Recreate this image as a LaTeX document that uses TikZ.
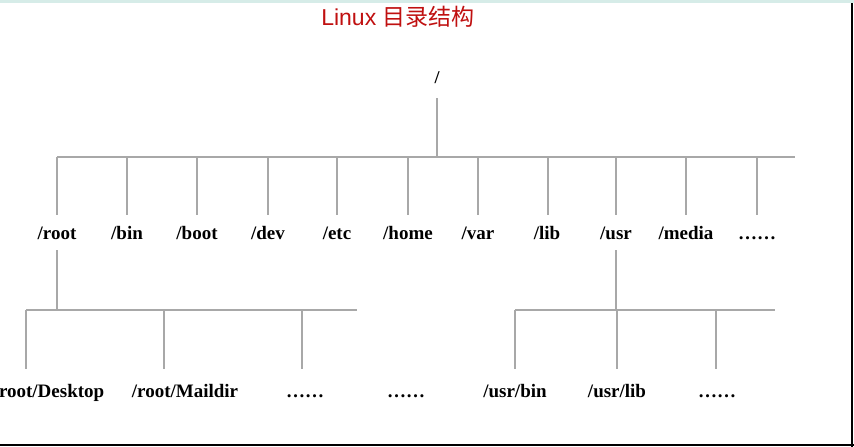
\documentclass[tikz,border=0pt]{standalone}
\usepackage{fontspec}
\setmainfont{Liberation Serif}
\newfontfamily\titlelat{Liberation Sans}
\newfontfamily\titlecjk{Noto Sans CJK SC}
\definecolor{titlered}{RGB}{192,16,16}
\definecolor{treegray}{RGB}{168,168,168}
\definecolor{stripteal}{RGB}{214,236,232}
\begin{document}
\begin{tikzpicture}[x=1pt,y=-1pt,
  lbl/.style={font=\bfseries\fontsize{19}{19}\selectfont, anchor=base, inner sep=0pt, text height=12.5pt},
  tree/.style={draw=treegray, line width=1.4pt},
  frame/.style={draw=black, line width=1.6pt}]
\useasboundingbox (0,0) rectangle (854,447);
\fill[white] (0,0) rectangle (854,447);
\fill[stripteal] (0,0) rectangle (854,3);
\draw[frame] (852,3) -- (852,447);
\draw[frame] (0,445) -- (854,445);

% title
\node[anchor=base, inner sep=0pt, text=titlered, font=\fontsize{23}{23}\selectfont] (title) at (398,25) {\titlelat Linux \titlecjk 目录结构};

% root
\node[font=\bfseries\fontsize{18}{18}\selectfont, anchor=base, inner sep=0pt] (slash) at (437,83) {/};
\coordinate (hub) at (437,157);
\draw[tree] ([yshift=-15pt]slash.base) -- (hub);
\coordinate (busL) at (57,157);
\coordinate (busR) at (795,157);
\draw[tree] (busL) -- (busR);

% first level
\node[lbl] (root) at (57,239) {/root};
\node[lbl] (bin) at (127,239) {/bin};
\node[lbl] (boot) at (197,239) {/boot};
\node[lbl] (dev) at (268,239) {/dev};
\node[lbl] (etc) at (337,239) {/etc};
\node[lbl] (home) at (408,239) {/home};
\node[lbl] (var) at (478,239) {/var};
\node[lbl] (lib) at (547,239) {/lib};
\node[lbl] (usr) at (616,239) {/usr};
\node[lbl] (media) at (686,239) {/media};
\node[lbl] (more) at (757,239) {\dots\dots};
\foreach \name/\x in {root/57, bin/127, boot/197, dev/268, etc/337, home/408, var/478, lib/548, usr/616, media/686, more/757}{
  \coordinate (top\name) at (\x,157);
  \coordinate (end\name) at ([yshift=11pt]\name.north);
  \draw[tree] (top\name) -- (top\name |- end\name);
}

% second level under /root
\coordinate (rhub) at (57,310);
\draw[tree] ([yshift=-11pt]root.base) -- (rhub);
\coordinate (rbusL) at (26,310);
\coordinate (rbusR) at (357,310);
\draw[tree] (rbusL) -- (rbusR);
\node[lbl] (desk) at (49,397) {/root/Desktop};
\node[lbl] (mail) at (185,397) {/root/Maildir};
\node[lbl] (rmore) at (305,397) {\dots\dots};
\node[lbl] (rmore2) at (406,397) {\dots\dots};
\coordinate (tdesk) at (26,310);
\coordinate (tmail) at (164,310);
\coordinate (trmore) at (302,310);
\coordinate (lowend) at ([yshift=15pt]mail.north);
\draw[tree] (tdesk) -- (tdesk |- lowend);
\draw[tree] (tmail) -- (tmail |- lowend);
\draw[tree] (trmore) -- (trmore |- lowend);

% second level under /usr
\coordinate (uhub) at (616,310);
\draw[tree] ([yshift=-11pt]usr.base) -- (uhub);
\coordinate (ubusL) at (515,310);
\coordinate (ubusR) at (775,310);
\draw[tree] (ubusL) -- (ubusR);
\node[lbl] (ubin) at (515,397) {/usr/bin};
\node[lbl] (ulib) at (617,397) {/usr/lib};
\node[lbl] (umore) at (717,397) {\dots\dots};
\coordinate (tulib) at (617,310);
\coordinate (tumore) at (716,310);
\coordinate (uend) at ([yshift=15pt]ubin.north);
\draw[tree] (ubusL) -- (ubusL |- uend);
\draw[tree] (tulib) -- (tulib |- uend);
\draw[tree] (tumore) -- (tumore |- uend);
\end{tikzpicture}
\end{document}
